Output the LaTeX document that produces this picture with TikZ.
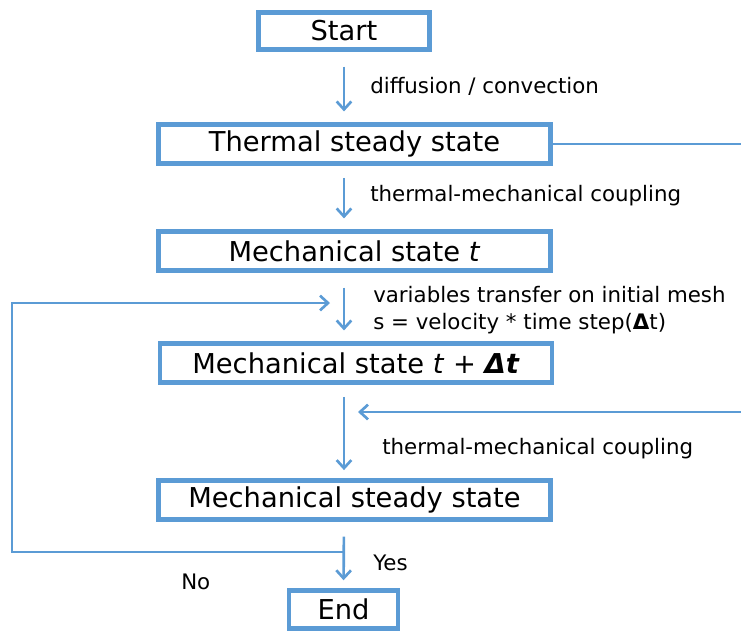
\documentclass[tikz,border=0pt]{standalone}
\usepackage{fontspec}
\setmainfont{DejaVu Sans}
\usetikzlibrary{arrows.meta}

\definecolor{flowblue}{RGB}{91,155,213}

\tikzset{
  box/.style={draw=flowblue,line width=3.4pt,minimum width=294pt,minimum height=29.5pt,
    inner sep=0pt,font=\fontsize{20.5}{24}\selectfont},
  flow/.style={draw=flowblue,line width=2pt,-{Straight Barb[length=6pt,width=11pt,line width=2pt]}},
  link/.style={draw=flowblue,line width=2pt},
  lbl/.style={anchor=west,inner sep=0pt,font=\fontsize{16}{20}\selectfont}
}

\begin{document}
\begin{tikzpicture}[x=0.75pt,y=-0.75pt]
\useasboundingbox (0,0) rectangle (741,633);

% boxes
\node[box,minimum width=128.5pt,minimum height=28pt] (start) at (344,31) {Start};
\node[box] (thermal) at (354.5,144) {Thermal steady state};
\node[box] (mecht) at (354.5,251) {Mechanical state \textit{t}};
\node[box] (mechdt) at (356,363) {Mechanical state \textit{t} + \textbf{\textit{Δt}}};
\node[box] (mstead) at (354.5,500) {Mechanical steady state};
\node[box,minimum width=81.5pt,minimum height=28.5pt] (end) at (343.5,609.5) {End};

% arrows down the column
\draw[flow,shorten <=11pt,shorten >=8pt] (start.south) -- (thermal.north -| start);
\draw[flow,shorten <=9pt,shorten >=8pt] (thermal.south -| start) -- (mecht.north -| start);
\draw[flow,shorten <=11pt,shorten >=8pt] (mecht.south -| start) -- (mechdt.north -| start);
\draw[flow,shorten <=9pt,shorten >=6pt] (mechdt.south -| start) -- (mstead.north -| start);
\draw[flow,shorten <=11pt,shorten >=6pt] (mstead.south -| start) -- (end.north);

% feedback lines
\coordinate (rtop) at (741,144);
\coordinate (rbot) at (741,412);
\coordinate (join) at (358,412);
\coordinate (split) at (344,552);
\coordinate (loopc) at (12,303);
\coordinate (back) at (330,303);
\draw[link] (thermal.east) -- (rtop);
\draw[flow] (rbot) -- (join);
\draw[flow] (split) -| (loopc) -- (back);

% labels
\node[lbl] (l1) at (370,86) {diffusion / convection};
\node[lbl] (l2) at (370,196) {thermal-mechanical coupling};
\node[lbl,align=left] (l3) at (373,310)
  {variables transfer on initial mesh\\s = velocity * time step(\textbf{Δ}t)};
\node[lbl] (l4) at (382,449) {thermal-mechanical coupling};
\node[lbl] (yes) at (373,563) {Yes};
\node[lbl] (no) at (181,582) {No};

\end{tikzpicture}
\end{document}
